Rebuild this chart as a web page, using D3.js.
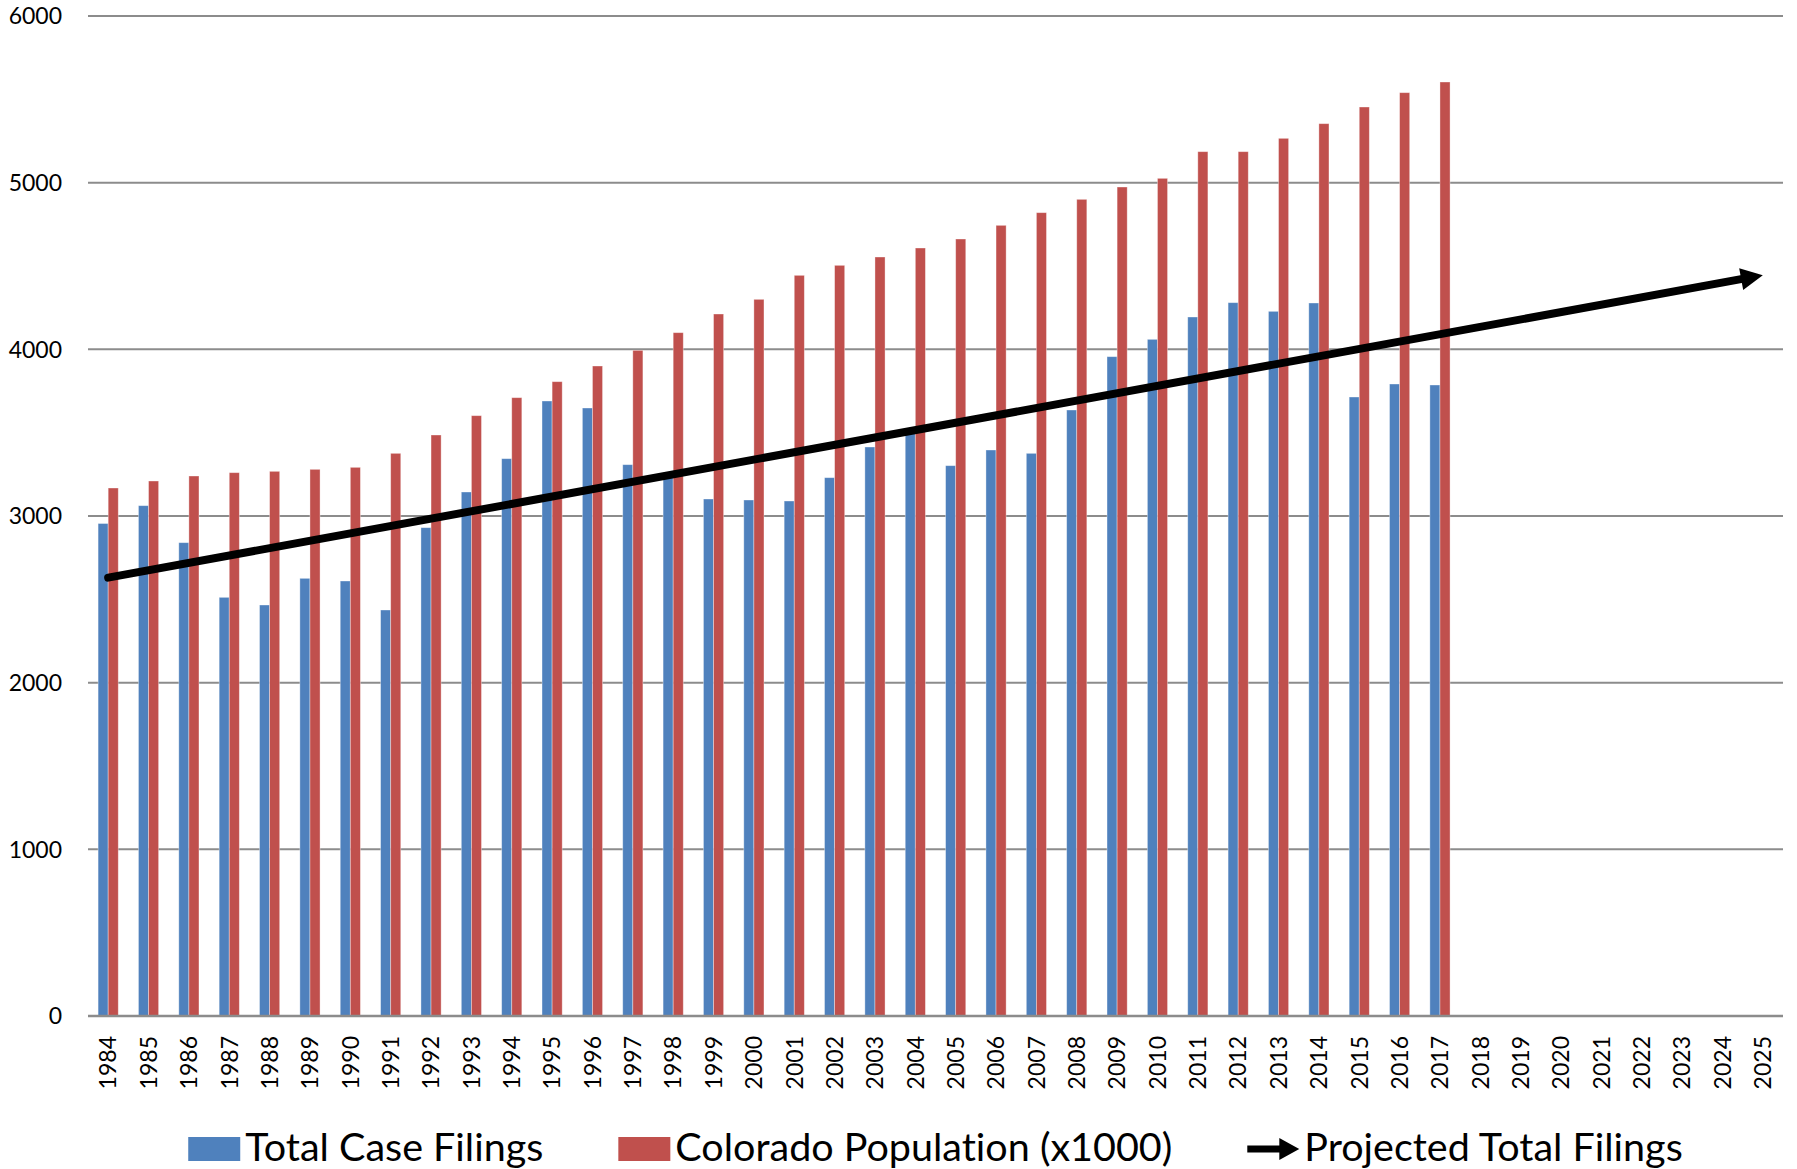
<!DOCTYPE html>
<html>
<head>
<meta charset="utf-8">
<script src="https://cdn.jsdelivr.net/npm/d3@7"></script>
<style>
  body { margin: 0; background: #fff; }
  text { font-family: Lato, "Open Sans", sans-serif; fill: #000; font-variant-ligatures: none; }
</style>
</head>
<body>
<svg id="chart" width="1797" height="1169"></svg>
<script>
// categories (years on the x axis)
var years = ["1984","1985","1986","1987","1988","1989","1990","1991","1992","1993",
  "1994","1995","1996","1997","1998","1999","2000","2001","2002","2003",
  "2004","2005","2006","2007","2008","2009","2010","2011","2012","2013",
  "2014","2015","2016","2017","2018","2019","2020","2021","2022","2023",
  "2024","2025"];

// Total Case Filings, 1984-2017
var filings = [2955, 3062, 2840, 2512, 2466, 2626, 2610, 2436, 2930, 3144,
  3344, 3690, 3648, 3308, 3232, 3102, 3096, 3090, 3230, 3414,
  3500, 3302, 3396, 3376, 3636, 3956, 4060, 4194, 4280, 4228,
  4278, 3714, 3792, 3786];

// Colorado Population (x1000), 1984-2017
var population = [3168, 3210, 3240, 3260, 3268, 3280, 3292, 3376, 3486, 3602,
  3710, 3806, 3900, 3994, 4100, 4212, 4300, 4444, 4504, 4554,
  4608, 4662, 4744, 4820, 4900, 4974, 5026, 5186, 5186, 5266,
  5354, 5454, 5540, 5604];

// Projected Total Filings (straight arrow from first to last year)
var projYears = ["1984", "2025"];
var projValues = [2630, 4445];

var yTicks = [0, 1000, 2000, 3000, 4000, 5000, 6000];
var seriesNames = ["Total Case Filings", "Colorado Population (x1000)"];
var seriesColors = ["#4F81BD", "#C0504D"];
var legendLabels = ["Total Case Filings", "Colorado Population (x1000)", "Projected Total Filings"];

var dims = { left: 88, right: 1783, top: 16, bottom: 1016 };

var svg = d3.select("#chart");

var x0 = d3.scaleBand().domain(years).range([dims.left, dims.right])
  .paddingInner(0.5).paddingOuter(0.25);
var x1 = d3.scaleBand().domain(seriesNames).range([0, x0.bandwidth()]);
var y = d3.scaleLinear().domain([0, 6000]).range([dims.bottom, dims.top]);

// gridlines
svg.append("g").attr("class", "grid")
  .selectAll("line")
  .data(yTicks)
  .enter().append("line")
  .attr("x1", dims.left)
  .attr("x2", dims.right)
  .attr("y1", d => y(d))
  .attr("y2", d => y(d))
  .style("stroke", "#8c8c8c")
  .style("stroke-width", "2px");

// y labels
svg.append("g").attr("class", "yLabels")
  .selectAll("text")
  .data(yTicks)
  .enter().append("text")
  .attr("x", 62)
  .attr("y", d => y(d))
  .attr("dy", "0.36em")
  .attr("text-anchor", "end")
  .style("font-size", "23px")
  .text(d => d);

// bars
var rows = years.slice(0, filings.length).map((yr, i) => ({ year: yr, values: [filings[i], population[i]] }));

var groups = svg.append("g").attr("class", "bars")
  .selectAll("g")
  .data(rows)
  .enter().append("g")
  .attr("transform", d => "translate(" + x0(d.year) + ",0)");

groups.selectAll("rect")
  .data(d => d.values.map((v, j) => ({ name: seriesNames[j], value: v, color: seriesColors[j] })))
  .enter().append("rect")
  .attr("x", d => x1(d.name))
  .attr("width", x1.bandwidth())
  .attr("y", d => y(d.value))
  .attr("height", d => y(0) - y(d.value))
  .style("fill", d => d.color)
  .style("stroke", "#fff")
  .style("stroke-opacity", 0.45)
  .style("stroke-width", "0.8px");

// x axis line
svg.append("line")
  .attr("x1", dims.left).attr("x2", dims.right)
  .attr("y1", y(0)).attr("y2", y(0))
  .style("stroke", "#8c8c8c")
  .style("stroke-width", "2.5px");

// x labels (rotated)
svg.append("g").attr("class", "xLabels")
  .selectAll("text")
  .data(years)
  .enter().append("text")
  .attr("transform", d => "translate(" + (x0(d) + x0.bandwidth() / 2) + "," + (y(0) + 20) + ") rotate(-90)")
  .attr("dy", "0.36em")
  .attr("text-anchor", "end")
  .style("font-size", "23px")
  .text(d => d);

// projection arrow
var cx = d => x0(d) + x0.bandwidth() / 2;
var sx = cx(projYears[0]), sy = y(projValues[0]);
var ex = cx(projYears[1]), ey = y(projValues[1]);
var len = Math.hypot(ex - sx, ey - sy);
var ux = (ex - sx) / len, uy = (ey - sy) / len;
var headLen = 22, headHalf = 11;

svg.append("line")
  .attr("x1", sx).attr("y1", sy)
  .attr("x2", ex - ux * (headLen - 4)).attr("y2", ey - uy * (headLen - 4))
  .style("stroke", "#000")
  .style("stroke-width", "8px")
  .style("stroke-linecap", "round");

var bx = ex - ux * headLen, by = ey - uy * headLen;
svg.append("path")
  .attr("d", "M" + ex + "," + ey +
    "L" + (bx - uy * headHalf) + "," + (by + ux * headHalf) +
    "L" + (bx + uy * headHalf) + "," + (by - ux * headHalf) + "Z")
  .style("fill", "#000");

// legend
var legend = svg.append("g").attr("class", "legend");
var legendY = 1149, swatchW = 52, swatchH = 24, itemGap = 75;
var cursor = 0;
legendLabels.forEach(function(label, i) {
  var g = legend.append("g");
  if (i < 2) {
    g.append("rect")
      .attr("x", 0).attr("y", legendY - swatchH / 2)
      .attr("width", swatchW).attr("height", swatchH)
      .style("fill", seriesColors[i]);
  } else {
    g.append("line")
      .attr("x1", 0).attr("x2", swatchW - 16)
      .attr("y1", legendY).attr("y2", legendY)
      .style("stroke", "#000").style("stroke-width", "7px");
    g.append("path")
      .attr("d", "M" + swatchW + "," + legendY + "L" + (swatchW - 20) + "," + (legendY - 11) +
        "L" + (swatchW - 20) + "," + (legendY + 11) + "Z")
      .style("fill", "#000");
  }
  var t = g.append("text")
    .attr("x", swatchW + 5)
    .attr("y", legendY + 12)
    .style("font-size", "39.5px")
    .text(label);
  var w = swatchW + 5 + t.node().getComputedTextLength();
  g.attr("transform", "translate(" + cursor + ",0)");
  cursor += w + itemGap;
});
var totalW = cursor - itemGap;
legend.attr("transform", "translate(" + ((dims.left + dims.right) / 2 - totalW / 2) + ",0)");
</script>
</body>
</html>
